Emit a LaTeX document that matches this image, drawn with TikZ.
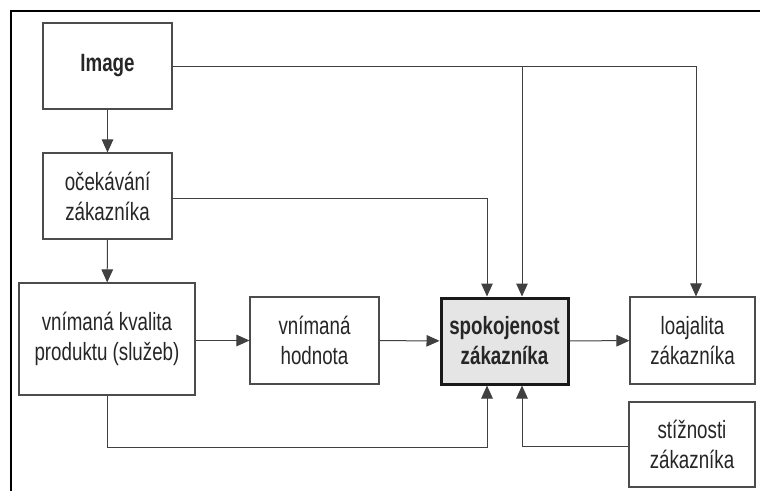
\documentclass[tikz,border=0pt]{standalone}
\usepackage{fontspec}
\setmainfont[FakeStretch=0.75]{Liberation Sans}
\usepackage{tikz}
\usetikzlibrary{arrows.meta}

\begin{document}
\begin{tikzpicture}[x=1pt, y=-1pt, every node/.style={font=\fontsize{25}{30}\selectfont, text=black!85}, >={Triangle[length=13pt, width=11.5pt]}, blok/.style={draw=black!70, line width=1.1pt, align=center, inner sep=2pt}, spoj/.style={draw=black!75, line width=1pt}]
	\useasboundingbox (0,0) rectangle (760,491);
	\draw[line width=2.8pt] (11,491) -- (11,11) -- (760,11);
	\node[blok, minimum width=129pt, minimum height=86pt, font=\fontsize{25}{30}\selectfont\bfseries] (img) at (107.5,66) {Image};
	\node[blok, minimum width=129pt, minimum height=86pt] (oce) at (107.5,196) {očekávání\\zákazníka};
	\node[blok, minimum width=176pt, minimum height=112pt] (kval) at (107,339) {vnímaná kvalita\\produktu (služeb)};
	\node[blok, minimum width=129pt, minimum height=87pt] (hod) at (314.5,340.5) {vnímaná\\hodnota};
	\node[blok, draw=black!90, line width=3pt, fill=black!10, minimum width=127pt, minimum height=86pt, font=\fontsize{25}{30}\selectfont\bfseries] (spok) at (504.5,341) {spokojenost\\zákazníka};
	\node[blok, minimum width=125pt, minimum height=87pt] (loaj) at (692.5,340.5) {loajalita\\zákazníka};
	\node[blok, minimum width=126pt, minimum height=85pt] (stiz) at (692,444.5) {stížnosti\\zákazníka};
	\coordinate (spokNL) at ([xshift=-17.5pt]spok.north);
	\coordinate (spokNR) at ([xshift=17.5pt]spok.north);
	\coordinate (spokSL) at ([xshift=-17.5pt]spok.south);
	\coordinate (spokSR) at ([xshift=17.5pt]spok.south);
	\draw[spoj, ->] (img) -- (oce);
	\draw[spoj, ->] (oce) -- (kval);
	\draw[spoj, ->] (kval.east |- hod.west) -- (hod.west);
	\draw[spoj, ->] (hod) -- (spok);
	\draw[spoj, ->] (spok) -- (loaj);
	\draw[spoj, ->] (img.east) -| ([xshift=3.5pt]loaj.north);
	\draw[spoj, ->] (img.east -| spokNR) -- (spokNR);
	\draw[spoj, ->] ([yshift=-2pt]oce.east) -| (spokNL);
	\draw[spoj, ->] (kval.south) |- ([yshift=-62pt]spokSL) -- (spokSL);
	\draw[spoj, ->] ([yshift=-2pt]stiz.west) -| (spokSR);
\end{tikzpicture}
\end{document}
